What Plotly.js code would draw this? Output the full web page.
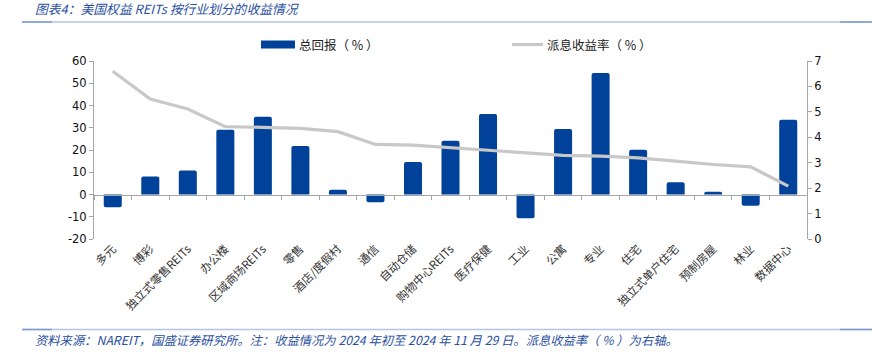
<!DOCTYPE html>
<html>
<head>
<meta charset="utf-8">
<script src="https://cdn.plot.ly/plotly-3.0.1.min.js"></script>
<style>html,body{margin:0;padding:0;background:#fff;}#chart{width:876px;height:360px;}</style>
</head>
<body>
<div id="chart"></div>
<script>
const categories = ["多元","博彩","独立式零售REITs","办公楼","区域商场REITs","零售","酒店/度假村","通信","自动仓储","购物中心REITs","医疗保健","工业","公寓","专业","住宅","独立式单户住宅","预制房屋","林业","数据中心"];
const totalReturn = [-5.7, 8.1, 10.8, 29.1, 35.0, 21.8, 2.1, -3.5, 14.6, 24.2, 36.2, -10.7, 29.4, 54.6, 20.1, 5.5, 1.2, -5.0, 33.6];
const dividendYield = [6.6, 5.5, 5.11, 4.42, 4.39, 4.35, 4.22, 3.72, 3.69, 3.59, 3.48, 3.39, 3.29, 3.26, 3.19, 3.06, 2.93, 2.84, 2.08];
const seriesNames = ["总回报（ % ）", "派息收益率（ % ）"];
const leftTicks = [-20, -10, 0, 10, 20, 30, 40, 50, 60];
const rightTicks = [0, 1, 2, 3, 4, 5, 6, 7];
const titleText = "图表4：美国权益 REITs 按行业划分的收益情况";
const noteText = "资料来源：NAREIT，国盛证券研究所。注：收益情况为 2024 年初至 2024 年 11 月 29 日。派息收益率（ % ）为右轴。";

const W = 876, H = 360, L = 94, R = 69, T = 61, B = 121;
const PW = W - L - R, PH = H - T - B;
const px = x => (x - L) / PW;
const py = y => (H - B - y) / PH;

const barColor = "#00419a";
const lineColor = "#c8c8c8";
const axisColor = "#a6a6a6";
const blueText = "#2a4f9f";
const cjk = "Noto Sans CJK SC";

const traces = [
  {type: "bar", x: categories, y: totalReturn, name: seriesNames[0], marker: {color: barColor, cornerradius: 2}, width: 0.48, xaxis: "x", yaxis: "y", showlegend: false, hoverinfo: "skip"},
  {type: "scatter", mode: "lines", x: categories, y: dividendYield, name: seriesNames[1], line: {color: lineColor, width: 3.2}, xaxis: "x", yaxis: "y2", showlegend: false, hoverinfo: "skip"},
  {type: "scatter", mode: "markers", x: categories, y: categories.map(() => null), xaxis: "x2", yaxis: "y", showlegend: false, hoverinfo: "skip"}
];

const layout = {
  width: W, height: H,
  margin: {l: L, r: R, t: T, b: B, pad: 0},
  paper_bgcolor: "#fff", plot_bgcolor: "#fff",
  showlegend: false,
  bargap: 0.5,
  xaxis: {type: "category", range: [-0.5, categories.length - 0.5], tickangle: -45, showline: false, ticks: "", showgrid: false, zeroline: false,
          tickfont: {family: cjk, size: 11.5, color: "#333"}, automargin: false},
  xaxis2: {type: "category", overlaying: "x", matches: "x", anchor: "free", position: 0.25, range: [-0.5, categories.length - 0.5],
           showticklabels: false, ticks: "outside", tickson: "boundaries", ticklen: 4, tickcolor: axisColor, showline: true, linecolor: axisColor, linewidth: 1, showgrid: false, zeroline: false},
  yaxis: {range: [-20, 60], tickvals: leftTicks, ticktext: leftTicks.map(String), showline: true, linecolor: axisColor, linewidth: 1, ticks: "outside", ticklen: 4, tickcolor: axisColor,
          showgrid: false, zeroline: false, tickfont: {family: "DejaVu Sans", size: 11.5, color: "#111"}, automargin: false},
  yaxis2: {range: [0, 7], tickvals: rightTicks, ticktext: rightTicks.map(String), overlaying: "y", side: "right", anchor: "x", showline: true, linecolor: axisColor, linewidth: 1, ticks: "outside", ticklen: 4, tickcolor: axisColor,
           showgrid: false, zeroline: false, tickfont: {family: "DejaVu Sans", size: 11.5, color: "#111"}, automargin: false},
  shapes: [
    {type: "line", xref: "paper", yref: "paper", x0: px(22), x1: px(872), y0: py(22), y1: py(22), line: {color: "#b4c6e4", width: 1.5}},
    {type: "line", xref: "paper", yref: "paper", x0: px(22), x1: px(52), y0: py(22), y1: py(22), line: {color: "#7d9bd0", width: 1.5}},
    {type: "line", xref: "paper", yref: "paper", x0: px(840), x1: px(872), y0: py(22), y1: py(22), line: {color: "#7d9bd0", width: 1.5}},
    {type: "line", xref: "paper", yref: "paper", x0: px(22), x1: px(872), y0: py(329.5), y1: py(329.5), line: {color: "#b4c6e4", width: 1.5}},
    {type: "line", xref: "paper", yref: "paper", x0: px(22), x1: px(52), y0: py(329.5), y1: py(329.5), line: {color: "#7d9bd0", width: 1.5}},
    {type: "line", xref: "paper", yref: "paper", x0: px(840), x1: px(872), y0: py(329.5), y1: py(329.5), line: {color: "#7d9bd0", width: 1.5}},
    {type: "rect", xref: "paper", yref: "paper", x0: px(261), x1: px(295), y0: py(48.5), y1: py(40.5), fillcolor: barColor, line: {width: 0}},
    {type: "line", xref: "paper", yref: "paper", x0: px(512), x1: px(543), y0: py(44.5), y1: py(44.5), line: {color: lineColor, width: 3.2}}
  ],
  annotations: [
    {xref: "paper", yref: "paper", x: px(33), y: py(8), xanchor: "left", yanchor: "middle", showarrow: false, text: "<i>" + titleText + "</i>",
     font: {family: cjk, size: 12.8, color: blueText}},
    {xref: "paper", yref: "paper", x: px(297), y: py(44.5), xanchor: "left", yanchor: "middle", showarrow: false, text: seriesNames[0],
     font: {family: cjk, size: 12.5, color: "#222"}},
    {xref: "paper", yref: "paper", x: px(545), y: py(44.5), xanchor: "left", yanchor: "middle", showarrow: false, text: seriesNames[1],
     font: {family: cjk, size: 12.5, color: "#222"}},
    {xref: "paper", yref: "paper", x: px(33), y: py(340), xanchor: "left", yanchor: "middle", showarrow: false, text: "<i>" + noteText + "</i>",
     font: {family: cjk, size: 12.3, color: blueText}}
  ]
};

Plotly.newPlot("chart", traces, layout, {displayModeBar: false, staticPlot: true});
</script>
</body>
</html>
